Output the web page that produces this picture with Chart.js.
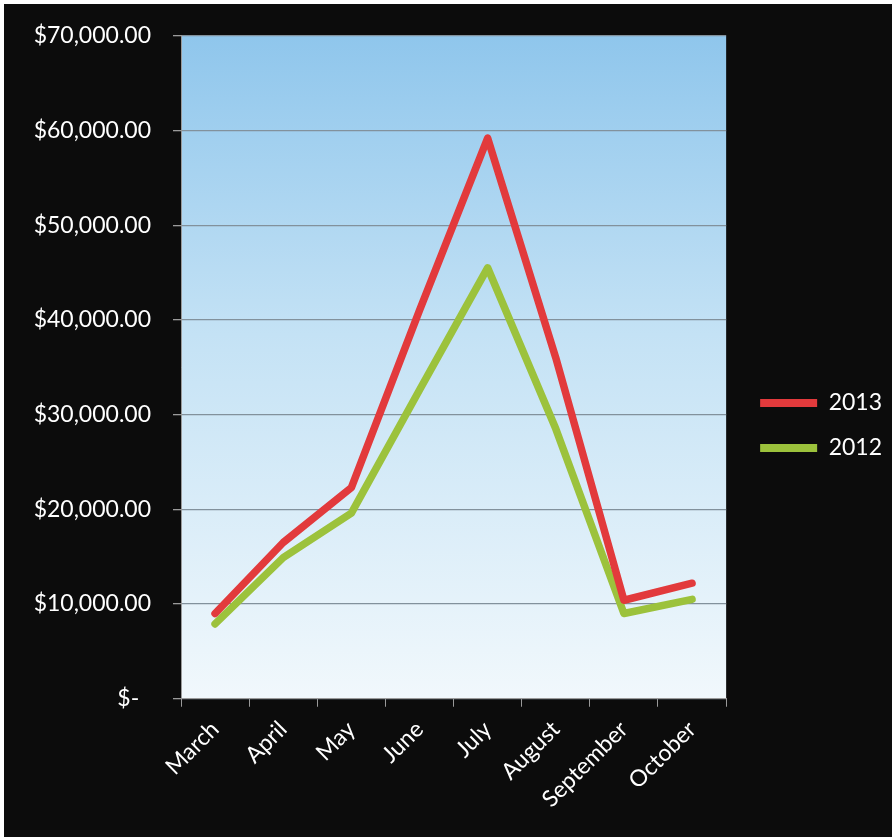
<!DOCTYPE html>
<html>
<head>
<meta charset="utf-8">
<script src="https://cdn.jsdelivr.net/npm/chart.js@4/dist/chart.umd.min.js"></script>
<style>
  html, body { margin: 0; padding: 0; background: #fff; }
  #wrap { width: 892px; height: 837px; }
</style>
</head>
<body>
<div id="wrap"><canvas id="chart" width="892" height="837"></canvas></div>
<script>
// =========================
// DATA
// =========================
const months = ['March', 'April', 'May', 'June', 'July', 'August', 'September', 'October'];
const sales2013 = [9000, 16500, 22300, 41000, 59200, 36000, 10400, 12200];
const sales2012 = [7900, 14900, 19600, 32600, 45500, 28500, 9000, 10500];

const colors = {
    red: '#e23a3c',
    green: '#9cc23c',
    grid: '#82919c',
    axis: '#9a9a9a',
    text: '#ffffff',
    bg: '#0c0c0c',
};

const font = { family: 'Lato', size: 23 };

// page background: white scan edge + black slide + plot gradient
const backdrop = {
    id: 'backdrop',
    beforeDraw(chart) {
        const { ctx, width, height, chartArea } = chart;
        ctx.save();
        ctx.fillStyle = '#ffffff';
        ctx.fillRect(0, 0, width, height);
        ctx.fillStyle = colors.bg;
        ctx.fillRect(4, 4, width - 4, height - 4);

        const g = ctx.createLinearGradient(0, chartArea.top, 0, chartArea.bottom);
        g.addColorStop(0, '#8fc6ec');
        g.addColorStop(0.45, '#c4e2f5');
        g.addColorStop(1, '#f1f8fc');
        ctx.fillStyle = g;
        ctx.fillRect(chartArea.left, chartArea.top, chartArea.right - chartArea.left, chartArea.bottom - chartArea.top);
        ctx.restore();
    },
};

// accounting style: zero shows as "$-"
const fmt = (v) => {
    if (v === 0) return '$-  ';
    return '$' + v.toLocaleString('en-US', { minimumFractionDigits: 2, maximumFractionDigits: 2 });
};

const line = (label, data, color) => ({
    label,
    data,
    borderColor: color,
    backgroundColor: color,
    borderWidth: 7.5,
    pointRadius: 0,
    tension: 0,
    borderCapStyle: 'round',
    borderJoinStyle: 'round',
});

new Chart(document.getElementById('chart'), {
    type: 'line',
    data: {
        labels: months,
        datasets: [
            line('2013', sales2013, colors.red),
            line('2012', sales2012, colors.green),
        ],
    },
    options: {
        responsive: false,
        animation: false,
        layout: { padding: { top: 29, left: 35, right: 0, bottom: 15 } },
        plugins: {
            legend: {
                position: 'right',
                maxWidth: 170,
                labels: {
                    color: colors.text,
                    font,
                    boxWidth: 57,
                    boxHeight: 8,
                    padding: 22,
                    generateLabels: (chart) =>
                        chart.data.datasets.map((ds, i) => ({
                            text: ds.label,
                            fillStyle: ds.borderColor,
                            strokeStyle: ds.borderColor,
                            lineWidth: 0,
                            fontColor: colors.text,
                            datasetIndex: i,
                        })),
                },
            },
            tooltip: { enabled: false },
        },
        scales: {
            x: {
                offset: true,
                ticks: {
                    color: colors.text,
                    font,
                    minRotation: 45,
                    maxRotation: 45,
                    padding: 9,
                },
                grid: {
                    offset: true,
                    drawOnChartArea: false,
                    color: colors.axis,
                    tickLength: 8,
                },
                border: { color: colors.axis },
            },
            y: {
                min: 0,
                max: 70000,
                afterFit: (s) => { s.width = 146; },
                ticks: {
                    stepSize: 10000,
                    color: colors.text,
                    font,
                    padding: 22,
                    callback: (v) => fmt(v),
                },
                grid: {
                    color: colors.grid,
                    lineWidth: 1.3,
                    tickLength: 8,
                    tickColor: colors.axis,
                },
                border: { color: colors.axis },
            },
            // empty spacer between plot and legend
            gap: {
                position: 'right',
                display: true,
                ticks: { display: false },
                grid: { display: false },
                border: { display: false },
                afterFit: (s) => { s.width = 12; },
            },
        },
    },
    plugins: [backdrop],
});
</script>
</body>
</html>
